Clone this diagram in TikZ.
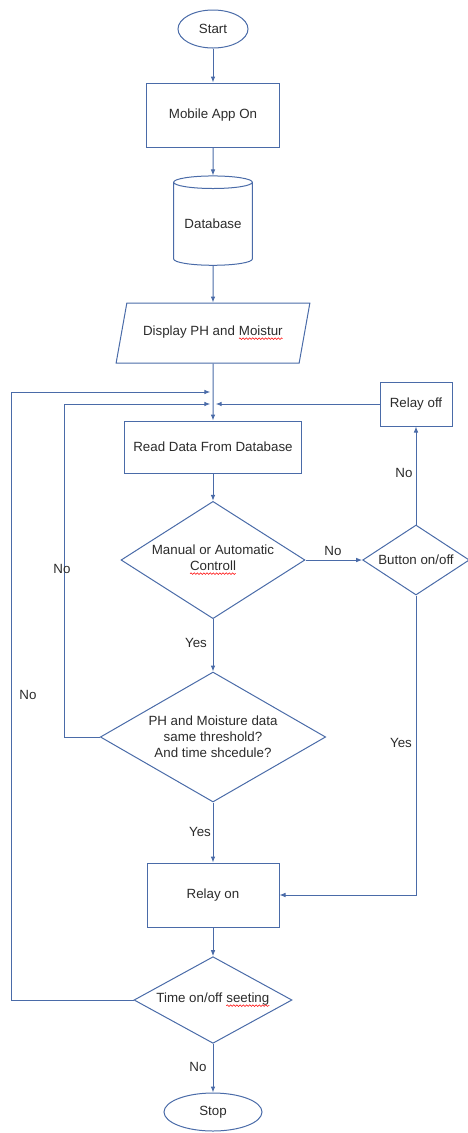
\documentclass[tikz,border=0pt]{standalone}
\usepackage{fontspec}
\setmainfont{Liberation Sans}
\usetikzlibrary{shapes.geometric, arrows.meta, decorations.pathmorphing}
\definecolor{flowline}{HTML}{4A6BA8}
\definecolor{flowtext}{HTML}{2B2B2B}
% red spell-check squiggle under a word
\newcommand{\typo}[1]{\tikz[baseline=(w.base)]{\node[shape=rectangle, draw=none, fill=none, inner sep=0pt, outer sep=0pt, minimum width=0pt, minimum height=0pt] (w) {#1};\draw[red, line width=0.4pt, decorate, decoration={snake, amplitude=0.6pt, segment length=2.4pt}] ([yshift=-2pt]w.base west) -- ([yshift=-2pt]w.base east);}}

\begin{document}
\begin{tikzpicture}[x=0.75pt, y=-0.75pt, font=\fontsize{10}{12}\selectfont, text=flowtext]
	\tikzstyle{terminal}=[ellipse, draw=flowline, line width=0.75pt, inner sep=0pt]
	\tikzstyle{process}=[rectangle, draw=flowline, line width=0.75pt, inner sep=2pt, align=center]
	\tikzstyle{decision}=[diamond, draw=flowline, line width=0.75pt, inner sep=0pt, align=center]
	\tikzstyle{store}=[cylinder, shape border rotate=90, shape aspect=0.22, draw=flowline, line width=0.75pt, inner sep=0pt]
	\tikzstyle{io}=[trapezium, trapezium left angle=57, trapezium right angle=123, trapezium stretches=true, draw=flowline, line width=0.75pt, inner sep=0pt]
	\tikzstyle{flow}=[draw=flowline, line width=0.75pt, -{Latex[length=4.5pt,width=3.5pt]}]
	\tikzstyle{answer}=[inner sep=0pt]

	\useasboundingbox (0,0) rectangle (468,1133);

	% Main column
	\node at (213,29) [terminal, minimum width=52.5pt, minimum height=28.5pt] (start) {Start};
	\node at (213,115) [process, minimum width=100pt, minimum height=48pt] (mobile) {Mobile App On};
	\node at (213,224) [store, minimum width=59pt, minimum height=67pt] (db) {Database};
	\node at (213,333) [io, minimum width=145.5pt, minimum height=45pt] (disp) {Display PH and \typo{Moistur}};
	\node at (213,447) [process, minimum width=133pt, minimum height=39pt] (read) {Read Data From Database};
	\node at (213,560) [decision, minimum width=138pt, minimum height=88pt, aspect=1.57] (manual) {Manual or Automatic\\\typo{Controll}};
	\node at (213,737) [decision, minimum width=169pt, minimum height=97.5pt, aspect=1.73] (ph) {PH and Moisture data\\same threshold?\\And time shcedule?};
	\node at (213,895) [process, minimum width=99pt, minimum height=48pt] (relayon) {Relay on};
	\node at (213,1000) [decision, minimum width=118.5pt, minimum height=65pt, aspect=1.82] (time) {Time on/off \typo{seeting}};
	\node at (213,1112) [terminal, minimum width=73.5pt, minimum height=28.5pt] (stop) {Stop};

	% Manual branch
	\node at (416,560) [decision, minimum width=80pt, minimum height=52.5pt, aspect=1.52] (button) {Button on/off};
	\node at (416,404) [process, minimum width=54pt, minimum height=33pt] (relayoff) {Relay off};

	% Joins on the main line
	\coordinate (join1) at (213,392);
	\coordinate (join2) at (213,404);
	\coordinate (outer) at (11,392);
	\coordinate (inner) at (64,404);

	\draw [flow] (start) -- (mobile);
	\draw [flow] (mobile) -- (db);
	\draw [flow] (db) -- (disp);
	\draw [flow] (disp) -- (read);
	\draw [flow] (read) -- (manual);
	\draw [flow] (manual) -- (ph);
	\draw [flow] (ph) -- (relayon);
	\draw [flow] (relayon) -- (time);
	\draw [flow] (time) -- (stop);

	\draw [flow] (manual) -- (button);
	\draw [flow] (button) -- (relayoff);
	\draw [flow] (button.south) |- (relayon.east);
	\draw [flow, shorten >=2pt] (relayoff) -- (join2);
	\draw [flow, shorten >=2pt] (ph.west) -| (inner) -- (join2);
	\draw [flow, shorten >=2pt] (time.west) -| (outer) -- (join1);

	% Labels
	\node [answer] (lno1) at (333,551) {No};
	\node [answer] (lno2) at (404,473) {No};
	\node [answer] (lno3) at (62,569) {No};
	\node [answer] (lyes1) at (196,643) {Yes};
	\node [answer] (lno4) at (28,695) {No};
	\node [answer] (lyes2) at (401,743) {Yes};
	\node [answer] (lyes3) at (200,832) {Yes};
	\node [answer] (lno5) at (198,1067) {No};

\end{tikzpicture}
\end{document}
